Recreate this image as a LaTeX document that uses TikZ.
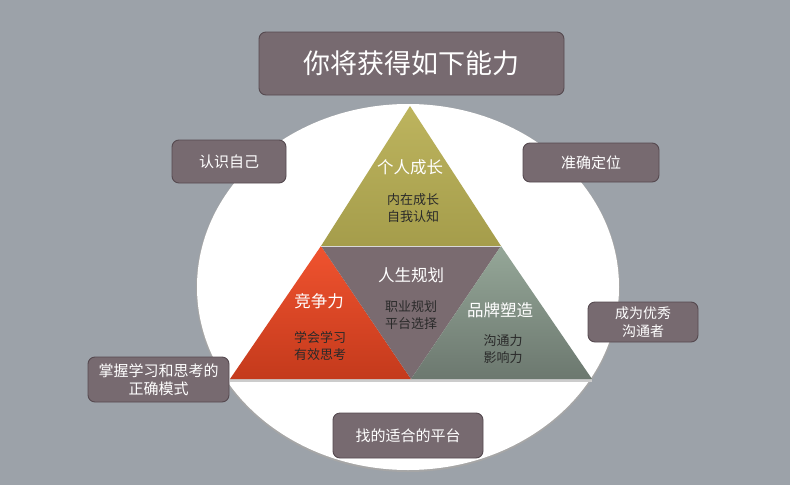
\documentclass[tikz,border=0pt]{standalone}
\usepackage{fontspec}
\usepackage{tikz}
\usetikzlibrary{positioning,calc}
\setmainfont{Noto Sans CJK SC}
\newfontfamily\cjk{Noto Sans CJK SC}
\definecolor{bggrey}{HTML}{9CA2A9}
\definecolor{boxmauve}{HTML}{776A70}
\definecolor{boxedge}{HTML}{564A50}
\definecolor{olivetop}{HTML}{BDB45E}
\definecolor{olivebot}{HTML}{A59D4B}
\definecolor{redtop}{HTML}{F0532F}
\definecolor{redbot}{HTML}{C43A1C}
\definecolor{midmauve}{HTML}{7A6B70}
\definecolor{sagetop}{HTML}{95A798}
\definecolor{sagebot}{HTML}{6C786F}
\definecolor{subtext}{HTML}{2A2A2A}
\tikzset{
  label box/.style = {draw=boxedge, line width=0.9pt, fill=boxmauve,
                      rounded corners=7pt, text=white, align=center,
                      inner sep=0pt, font=\cjk\fontsize{15}{18}\selectfont},
  tri title/.style = {text=white, font=\cjk\fontsize{16.5}{19}\selectfont},
  tri sub/.style   = {text=subtext, align=center,
                      font=\cjk\fontsize{13}{16.5}\selectfont},
}

\begin{document}
\begin{tikzpicture}[x=1pt, y=-1pt]
  \fill[bggrey] (0,0) rectangle (790,485);
  \useasboundingbox (0,0) rectangle (790,485);

  % white disc behind the pyramid
  \fill[black!35] (408,288) ellipse [x radius=212, y radius=184];
  \fill[white] (408,287) ellipse [x radius=211, y radius=183];

  % corner points of the pyramid
  \coordinate (apex) at (410,106);
  \coordinate (midL) at (321,246);
  \coordinate (midR) at (501,246);
  \coordinate (botL) at (230,379);
  \coordinate (botM) at (411,379);
  \coordinate (botR) at (592,379);

  \fill[black!20] (botL) -- ++(0,3) -- ($(botR)+(0,3)$) -- (botR) -- cycle;
  \shade[top color=olivetop, bottom color=olivebot] (apex) -- (midL) -- (midR) -- cycle;
  \shade[top color=redtop, bottom color=redbot] (midL) -- (botL) -- (botM) -- cycle;
  \fill[midmauve] (midL) -- (midR) -- (botM) -- cycle;
  \shade[top color=sagetop, bottom color=sagebot] (midR) -- (botM) -- (botR) -- cycle;
  \draw[white!85!black, line width=0.6pt] (midL) -- (midR);

  % texts inside the triangles
  \node[tri title] (grow) at (410,167) {个人成长};
  \node[tri sub] (growsub) at (413,208) {内在成长\\自我认知};
  \node[tri title] (plan) at (411,275) {人生规划};
  \node[tri sub] (plansub) at (411,315) {职业规划\\平台选择};
  \node[tri title] (compete) at (319,301) {竞争力};
  \node[tri sub] (competesub) at (320,346) {学会学习\\有效思考};
  \node[tri title] (brand) at (500,310) {品牌塑造};
  \node[tri sub] (brandsub) at (503,349) {沟通力\\影响力};

  % boxes round the disc
  \node[label box, minimum width=305pt, minimum height=63pt,
        font=\cjk\fontsize{27}{30}\selectfont] (title) at (411.5,63.5) {你将获得如下能力};
  \node[label box, minimum width=114pt, minimum height=43pt] (know) at (229,161.5) {认识自己};
  \node[label box, minimum width=136pt, minimum height=39pt] (place) at (591,162.5) {准确定位};
  \node[label box, minimum width=110pt, minimum height=40pt,
        font=\cjk\fontsize{14}{17.5}\selectfont] (talk) at (643,322) {成为优秀\\沟通者};
  \node[label box, minimum width=141pt, minimum height=45pt] (learn) at (158.5,379.5) {掌握学习和思考的\\正确模式};
  \node[label box, minimum width=150pt, minimum height=45pt] (stage) at (408,435.5) {找的适合的平台};
\end{tikzpicture}
\end{document}
